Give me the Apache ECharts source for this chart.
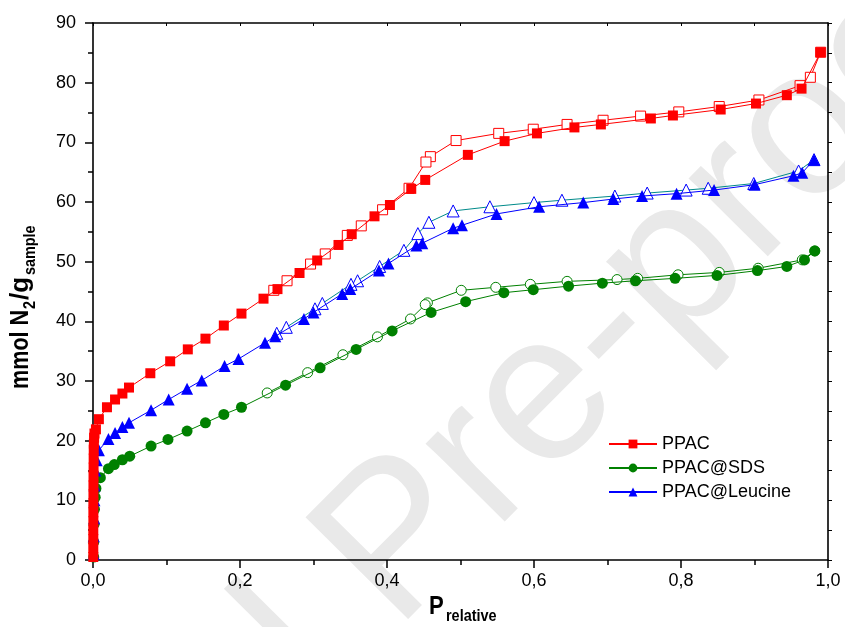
<!DOCTYPE html>
<html><head><meta charset="utf-8">
<script src="https://cdn.jsdelivr.net/npm/echarts@6/dist/echarts.min.js"></script>
<style>html,body{margin:0;padding:0;background:#fff}#c{width:845px;height:627px}</style>
</head><body><div id="c"></div>
<script>
// ---- data ----
const legendNames = ['PPAC', 'PPAC@SDS', 'PPAC@Leucine'];
const xTickLabels = ['0,0', '0,2', '0,4', '0,6', '0,8', '1,0'];

const ppacAdsX = [0.0004,0.0004,0.0004,0.0004,0.0005,0.0005,0.0005,0.0006,0.0006,0.0007,0.0008,0.0009,0.001,0.0012,0.0015,0.002,0.004,0.008,0.019,0.030,0.040,0.049,0.078,0.105,0.129,0.153,0.178,0.202,0.232,0.251,0.281,0.305,0.334,0.352,0.383,0.404,0.433,0.452,0.510,0.560,0.604,0.655,0.691,0.759,0.789,0.854,0.902,0.944,0.964,0.990];
const ppacAdsY = [0.5,2,3.5,5,6.5,8,9.5,11,12.5,14,15.5,17,18.5,19.5,20.5,21.2,21.9,23.6,25.6,26.9,27.9,28.9,31.3,33.3,35.3,37.1,39.3,41.3,43.8,45.4,48.1,50.2,52.8,54.6,57.6,59.5,62.2,63.7,67.9,70.2,71.5,72.5,73.0,74.0,74.5,75.5,76.5,77.9,79.0,85.1];
const ppacDesX = [0.990,0.976,0.962,0.906,0.852,0.797,0.745,0.694,0.645,0.599,0.552,0.494,0.459,0.453,0.430,0.394,0.365,0.346,0.316,0.296,0.264,0.246];
const ppacDesY = [85.1,80.9,79.5,77.1,76.0,75.1,74.4,73.7,73.0,72.2,71.5,70.3,67.6,66.7,62.3,58.7,56.0,54.4,51.3,49.6,46.8,45.2];

const sdsAdsX = [0.001,0.001,0.0015,0.002,0.003,0.004,0.010,0.021,0.029,0.040,0.050,0.079,0.102,0.128,0.153,0.178,0.202,0.262,0.309,0.358,0.407,0.460,0.507,0.559,0.599,0.647,0.693,0.738,0.792,0.849,0.904,0.944,0.968,0.982];
const sdsAdsY = [0.5,3,6,8.5,10.5,12.0,13.8,15.3,16.0,16.8,17.4,19.1,20.2,21.6,23.0,24.4,25.6,29.3,32.2,35.3,38.4,41.5,43.3,44.8,45.3,45.9,46.4,46.8,47.2,47.7,48.5,49.2,50.3,51.8];
const sdsDesX = [0.982,0.965,0.905,0.852,0.796,0.741,0.713,0.645,0.595,0.548,0.501,0.455,0.452,0.432,0.387,0.340,0.292,0.237];
const sdsDesY = [51.8,50.3,48.9,48.2,47.8,47.2,47.0,46.7,46.2,45.7,45.2,43.1,42.8,40.4,37.4,34.4,31.4,28.0];

const leuAdsX = [0.001,0.001,0.0015,0.002,0.002,0.003,0.005,0.008,0.021,0.030,0.040,0.049,0.079,0.103,0.128,0.148,0.179,0.198,0.234,0.248,0.287,0.300,0.339,0.350,0.389,0.402,0.440,0.448,0.490,0.502,0.549,0.607,0.667,0.708,0.747,0.794,0.845,0.900,0.953,0.965,0.981];
const leuAdsY = [1,4,7,10,12.5,15,16.7,18.4,20.3,21.3,22.3,23.0,25.1,26.9,28.7,30.1,32.5,33.7,36.4,37.5,40.4,41.5,44.6,45.4,48.5,49.7,52.7,53.1,55.6,56.1,58.0,59.2,59.9,60.5,61.0,61.4,62.0,62.9,64.4,64.9,67.1];
const leuDesX = [0.981,0.960,0.899,0.837,0.807,0.754,0.710,0.638,0.600,0.540,0.490,0.457,0.442,0.423,0.390,0.360,0.351,0.312,0.302,0.263,0.250];
const leuDesY = [67.1,65.2,63.1,62.3,62.0,61.5,61.0,60.3,59.9,59.2,58.5,56.6,54.7,51.9,49.2,46.8,46.2,43.0,42.1,39.0,38.0];

// ---- build ----
const zip = (xs, ys) => xs.map((x, i) => [x, ys[i]]);
const RED = '#ff0000', GREEN = '#008000', BLUE = '#0000ff', TEAL = '#008a8a';
const FONT = '"Liberation Sans", Arial, sans-serif';

function mk(name, xs, ys, symbol, size, color, lineColor, z, empty) {
  return {
    name: name, type: 'line', data: zip(xs, ys), z: z,
    symbol: symbol, symbolSize: size,
    lineStyle: { color: lineColor, width: 1 },
    itemStyle: empty ? { color: '#fff', borderColor: color, borderWidth: 1 } : { color: color, borderWidth: 0 },
    silent: true, animation: false
  };
}
function txt(s, x, y, size, rot, sx) {
  return { type: 'text', silent: true, x: x, y: y, rotation: rot, scaleX: sx, scaleY: 1,
    style: { text: s, fontSize: size, fontWeight: 'bold', fontFamily: FONT, fill: '#000', align: 'left', verticalAlign: 'top' } };
}

const chart = echarts.init(document.getElementById('c'));
const R = Math.PI / 2;
chart.setOption({
  backgroundColor: '#fff',
  animation: false,
  grid: { left: 93, right: 17, top: 23, bottom: 67 },
  legend: {
    data: legendNames, orient: 'vertical', left: 603, top: 430,
    itemWidth: 48, itemHeight: 11, itemGap: 6,
    textStyle: { fontFamily: FONT, fontSize: 18, color: '#000' },
    selectedMode: false
  },
  xAxis: [
    { type: 'value', min: 0, max: 1, interval: 0.2, position: 'bottom',
      axisLine: { lineStyle: { color: '#000', width: 1.6 } },
      axisTick: { inside: false, length: 8, lineStyle: { color: '#000', width: 1.5 } },
      minorTick: { show: true, splitNumber: 2, length: 5, lineStyle: { color: '#000', width: 1.5 } },
      splitLine: { show: false },
      axisLabel: { margin: 12, fontSize: 18, color: '#000', fontFamily: FONT,
        formatter: function (v) { return xTickLabels[Math.round(v / 0.2)]; } } },
    { type: 'value', min: 0, max: 1, interval: 0.2, position: 'top',
      axisLine: { show: true, onZero: false, lineStyle: { color: '#000', width: 1.6 } },
      axisTick: { inside: true, length: 3, lineStyle: { color: '#000', width: 1 } },
      minorTick: { show: true, splitNumber: 2, length: 3, lineStyle: { color: '#000', width: 1 } },
      splitLine: { show: false }, axisLabel: { show: false } }
  ],
  yAxis: [
    { type: 'value', min: 0, max: 90, interval: 10, position: 'left',
      axisLine: { show: true, lineStyle: { color: '#000', width: 1.6 } },
      axisTick: { show: true, inside: false, length: 8, lineStyle: { color: '#000', width: 1.5 } },
      minorTick: { show: true, splitNumber: 2, length: 5, lineStyle: { color: '#000', width: 1.5 } },
      splitLine: { show: false },
      axisLabel: { margin: 17, fontSize: 18, color: '#000', fontFamily: FONT } },
    { type: 'value', min: 0, max: 90, interval: 10, position: 'right',
      axisLine: { show: true, onZero: false, lineStyle: { color: '#000', width: 1.6 } },
      axisTick: { show: true, inside: false, length: 4, lineStyle: { color: '#000', width: 1 } },
      minorTick: { show: true, splitNumber: 2, length: 4, lineStyle: { color: '#000', width: 1 } },
      splitLine: { show: false }, axisLabel: { show: false } }
  ],
  series: [
    mk('PPAC des', ppacDesX, ppacDesY, 'rect', 10, RED, RED, 3, true),
    mk('SDS des', sdsDesX, sdsDesY, 'circle', 10, GREEN, GREEN, 3, true),
    mk('Leu des', leuDesX, leuDesY, 'triangle', 12, BLUE, TEAL, 3, true),
    mk('PPAC@SDS', sdsAdsX, sdsAdsY, 'circle', 11, GREEN, GREEN, 4, false),
    mk('PPAC@Leucine', leuAdsX, leuAdsY, 'triangle', 12, BLUE, BLUE, 4, false),
    mk('PPAC', ppacAdsX, ppacAdsY, 'rect', 10, RED, RED, 5, false)
  ],
  graphic: [
    { type: 'text', silent: true, x: 400, y: 545, rotation: 0.79,
      style: { text: 'Journal Pre-proof', fontSize: 210, fontFamily: FONT, fill: '#e9e9e9', align: 'center', verticalAlign: 'middle' } },
    txt('mmol N', 8, 389, 26, R, 0.83),
    txt('2', 23, 309, 16, R, 0.9),
    txt('/g', 8, 300, 26, R, 1.0),
    txt('sample', 23, 275, 16, R, 0.9),
    txt('P', 429, 594, 26, 0, 0.85),
    txt('relative', 446, 608, 17, 0, 0.85)
  ]
});
</script></body></html>
